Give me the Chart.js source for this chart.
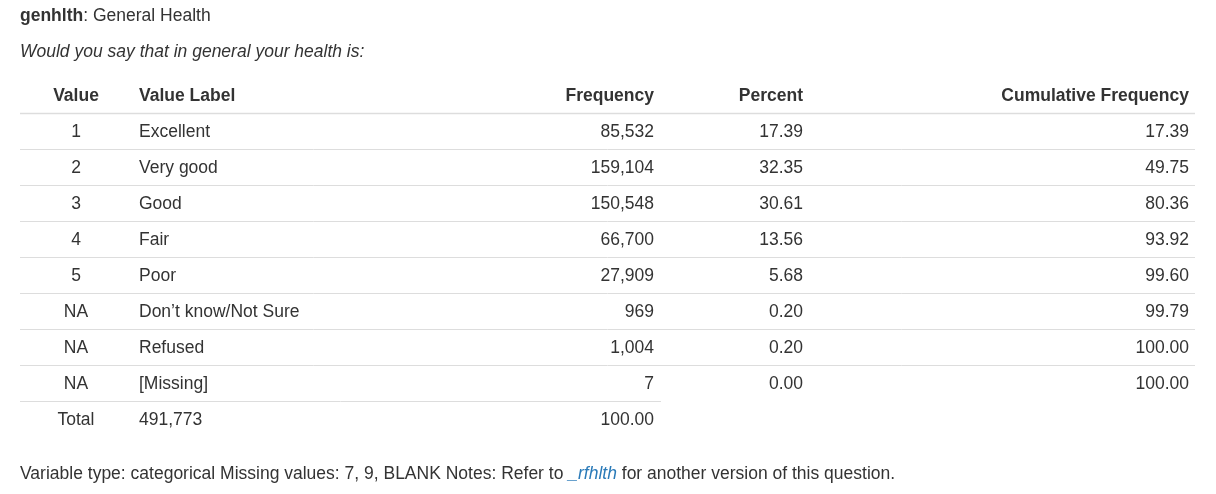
<!DOCTYPE html>
<html>
<head>
<meta charset="utf-8">
<script src="https://cdn.jsdelivr.net/npm/chart.js@4"></script>
<style>
body { margin: 0; background: #fff; }
#wrap { position: relative; width: 1216px; height: 494px; }
</style>
</head>
<body>
<div id="wrap"><canvas id="chart" width="1216" height="494"></canvas></div>
<script>
// table data
values = ["1", "2", "3", "4", "5", "NA", "NA", "NA"]
valueLabels = ["Excellent", "Very good", "Good", "Fair", "Poor", "Don\u2019t know/Not Sure", "Refused", "[Missing]"]
frequencies = ["85,532", "159,104", "150,548", "66,700", "27,909", "969", "1,004", "7"]
percents = ["17.39", "32.35", "30.61", "13.56", "5.68", "0.20", "0.20", "0.00"]
cumulative = ["17.39", "49.75", "80.36", "93.92", "99.60", "99.79", "100.00", "100.00"]
headers = ["Value", "Value Label", "Frequency", "Percent", "Cumulative Frequency"]
totalRow = ["Total", "491,773", "100.00"]

rowKeys = ["header"].concat(values.map((v, i) => "r" + i), ["total"])

FONT = '"Liberation Sans", Arial, sans-serif'
SIZE = "17.5px "
TEXT = "#333"

var tablePlugin = {
	id: "table",
	afterDraw(chart) {
		var ctx = chart.ctx
		var x = chart.scales.x
		var y = chart.scales.y
		var half = (y.getPixelForValue(1) - y.getPixelForValue(0)) / 2
		ctx.save()
		ctx.textBaseline = "middle"

		// titles
		ctx.fillStyle = TEXT
		ctx.textAlign = "left"
		ctx.font = "bold " + SIZE + FONT
		ctx.fillText("genhlth", 20, 16)
		var w = ctx.measureText("genhlth").width
		ctx.font = SIZE + FONT
		ctx.fillText(": General Health", 20 + w, 16)
		ctx.font = "italic " + SIZE + FONT
		ctx.fillText("Would you say that in general your health is:", 20, 52)

		// row lines
		ctx.strokeStyle = "#ddd"
		for (var i = 1; i < rowKeys.length; i++) {
			var ly = Math.round(y.getPixelForValue(i) - half) + 0.5
			var right = i == rowKeys.length - 1 ? x.getPixelForValue(661) : x.getPixelForValue(1195)
			ctx.lineWidth = i == 1 ? 1.5 : 1
			ctx.beginPath()
			ctx.moveTo(x.getPixelForValue(20), ly)
			ctx.lineTo(right, ly)
			ctx.stroke()
		}

		function cell(text, col, row, align, bold) {
			ctx.font = (bold ? "bold " : "") + SIZE + FONT
			ctx.textAlign = align
			ctx.fillStyle = TEXT
			ctx.fillText(text, x.getPixelForValue(col), y.getPixelForValue(row) + 1)
		}

		cell(headers[0], 76, 0, "center", true)
		cell(headers[1], 139, 0, "left", true)
		cell(headers[2], 654, 0, "right", true)
		cell(headers[3], 803, 0, "right", true)
		cell(headers[4], 1189, 0, "right", true)

		for (var r = 0; r < values.length; r++) {
			cell(values[r], 76, r + 1, "center")
			cell(valueLabels[r], 139, r + 1, "left")
			cell(frequencies[r], 654, r + 1, "right")
			cell(percents[r], 803, r + 1, "right")
			cell(cumulative[r], 1189, r + 1, "right")
		}
		var t = rowKeys.length - 1
		cell(totalRow[0], 76, t, "center")
		cell(totalRow[1], 139, t, "left")
		cell(totalRow[2], 654, t, "right")

		// footer
		ctx.textAlign = "left"
		ctx.font = SIZE + FONT
		var fy = 474
		var part1 = "Variable type: categorical Missing values: 7, 9, BLANK Notes: Refer to "
		ctx.fillText(part1, 20, fy)
		var px = 20 + ctx.measureText(part1).width
		ctx.font = "italic " + SIZE + FONT
		ctx.fillStyle = "#2a7ab8"
		ctx.fillText("_rfhlth", px, fy)
		px += ctx.measureText("_rfhlth ").width
		ctx.font = SIZE + FONT
		ctx.fillStyle = TEXT
		ctx.fillText("for another version of this question.", px, fy)
		ctx.restore()
	}
}

new Chart(document.getElementById("chart").getContext("2d"), {
	type: "scatter",
	data: { labels: rowKeys, datasets: [{ data: [] }] },
	options: {
		responsive: false,
		animation: false,
		layout: { padding: { top: 77, bottom: 57, left: 0, right: 0 } },
		plugins: { legend: { display: false }, tooltip: { enabled: false } },
		scales: {
			x: { type: "linear", min: 0, max: 1216, display: false },
			y: { type: "category", labels: rowKeys, offset: true, display: false }
		}
	},
	plugins: [tablePlugin]
})
</script>
</body>
</html>
